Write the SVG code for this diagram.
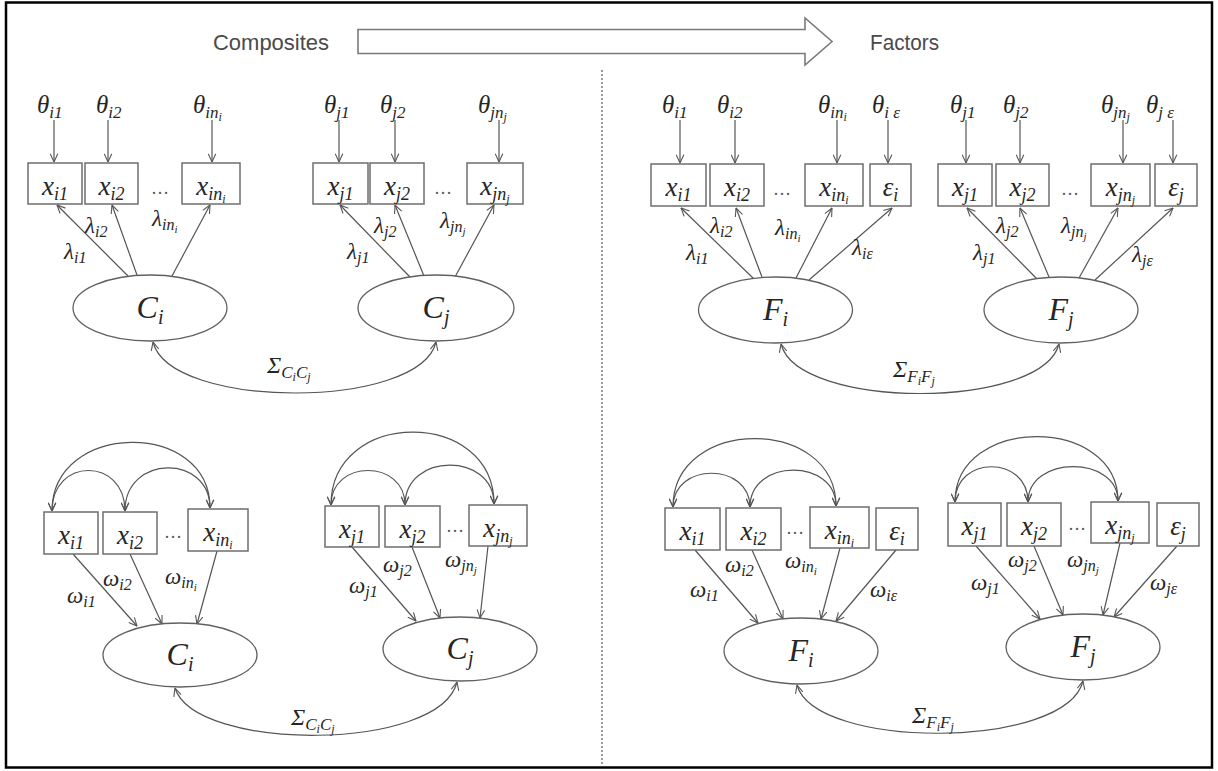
<svg xmlns="http://www.w3.org/2000/svg" width="1218" height="771" viewBox="0 0 1218 771">
<defs>
<style>
.frame{fill:#fff;stroke:#000;stroke-width:2.5}
.box{fill:#fff;stroke:#6e6e6e;stroke-width:1.5}
.ell{fill:#fff;stroke:#606060;stroke-width:1.3}
.ln{fill:none;stroke:#555;stroke-width:1.2}
.m{font-family:"Liberation Serif","Times New Roman",serif;font-style:italic;fill:#262626}
.c{text-anchor:middle}
.s{font-family:"Liberation Sans",Arial,sans-serif;font-size:22px;fill:#4a4a4a}
.div{fill:none;stroke:#9a9a9a;stroke-width:2;stroke-dasharray:2 2}
.big{fill:#fff;stroke:#7a7a7a;stroke-width:1.6}
.dots{font-family:"Liberation Serif","Times New Roman",serif;font-size:18px;fill:#555;text-anchor:middle}
.th{font-size:25px}.th .a{font-size:17px}.th .b{font-size:12px}
.bx{font-size:27px}.bx .a{font-size:18px}.bx .b{font-size:12px}
.gr{font-size:23px}.gr .a{font-size:16px}.gr .b{font-size:11px}
.lv{font-size:32px}.lv .a{font-size:20px}
.sg{font-size:24px}.sg .a{font-size:17px}.sg .b{font-size:12px}
</style>
<marker id="ah" viewBox="0 0 10 10" refX="9.6" refY="5" markerWidth="9" markerHeight="9" markerUnits="userSpaceOnUse" orient="auto-start-reverse"><path d="M0.5,0.8 L9.6,5 L0.5,9.2" fill="none" stroke="#555" stroke-width="1.2"/></marker>
</defs>

<rect class="frame" x="6" y="2.5" width="1206" height="765"/>

<g id="header">
<text class="s" x="213" y="50" textLength="116" lengthAdjust="spacingAndGlyphs">Composites</text>
<polygon class="big" points="358,29.5 805,29.5 805,18 832,41.5 805,65 805,53.5 358,53.5"/>
<text class="s" x="870" y="50" textLength="69" lengthAdjust="spacingAndGlyphs">Factors</text>
<line class="div" x1="602" y1="70" x2="602" y2="764"/>
</g>

<g id="connectors">
<line class="ln" x1="54" y1="120" x2="54" y2="162" marker-end="url(#ah)"/>
<line class="ln" x1="108" y1="120" x2="108" y2="162" marker-end="url(#ah)"/>
<line class="ln" x1="212" y1="120" x2="212" y2="162" marker-end="url(#ah)"/>
<line class="ln" x1="339" y1="120" x2="339" y2="162" marker-end="url(#ah)"/>
<line class="ln" x1="395" y1="120" x2="395" y2="162" marker-end="url(#ah)"/>
<line class="ln" x1="499" y1="120" x2="499" y2="162" marker-end="url(#ah)"/>
<line class="ln" x1="128" y1="276" x2="57" y2="205" marker-end="url(#ah)"/>
<line class="ln" x1="137" y1="275" x2="112" y2="205" marker-end="url(#ah)"/>
<line class="ln" x1="172" y1="276" x2="210" y2="205" marker-end="url(#ah)"/>
<line class="ln" x1="410" y1="277" x2="340" y2="205" marker-end="url(#ah)"/>
<line class="ln" x1="424" y1="276" x2="395" y2="205" marker-end="url(#ah)"/>
<line class="ln" x1="455" y1="277" x2="494" y2="205" marker-end="url(#ah)"/>
<path class="ln" d="M153,342 C170,410 420,410 436,342" marker-start="url(#ah)" marker-end="url(#ah)"/>
<path class="ln" d="M52,511 C52,421 210,419 210,508" marker-start="url(#ah)" marker-end="url(#ah)"/>
<path class="ln" d="M52,511 C52,457 125,457 125,511" marker-start="url(#ah)" marker-end="url(#ah)"/>
<path class="ln" d="M125,511 C125,454 210,454 210,508" marker-start="url(#ah)" marker-end="url(#ah)"/>
<path class="ln" d="M331,505 C331,408 494,408 494,504" marker-start="url(#ah)" marker-end="url(#ah)"/>
<path class="ln" d="M331,505 C331,459 405,459 405,505" marker-start="url(#ah)" marker-end="url(#ah)"/>
<path class="ln" d="M405,505 C405,452 494,452 494,504" marker-start="url(#ah)" marker-end="url(#ah)"/>
<line class="ln" x1="73" y1="554" x2="137" y2="626" marker-end="url(#ah)"/>
<line class="ln" x1="130" y1="554" x2="162" y2="624" marker-end="url(#ah)"/>
<line class="ln" x1="217" y1="551" x2="197" y2="624" marker-end="url(#ah)"/>
<line class="ln" x1="352" y1="547" x2="416" y2="621" marker-end="url(#ah)"/>
<line class="ln" x1="412" y1="547" x2="440" y2="618" marker-end="url(#ah)"/>
<line class="ln" x1="488" y1="546" x2="480" y2="618" marker-end="url(#ah)"/>
<path class="ln" d="M175,688 C195,752 440,752 457,682" marker-start="url(#ah)" marker-end="url(#ah)"/>
<line class="ln" x1="680" y1="120" x2="680" y2="163" marker-end="url(#ah)"/>
<line class="ln" x1="735" y1="120" x2="735" y2="163" marker-end="url(#ah)"/>
<line class="ln" x1="837" y1="120" x2="837" y2="163" marker-end="url(#ah)"/>
<line class="ln" x1="888" y1="120" x2="888" y2="163" marker-end="url(#ah)"/>
<line class="ln" x1="966" y1="120" x2="966" y2="163" marker-end="url(#ah)"/>
<line class="ln" x1="1020" y1="120" x2="1020" y2="163" marker-end="url(#ah)"/>
<line class="ln" x1="1123" y1="120" x2="1123" y2="163" marker-end="url(#ah)"/>
<line class="ln" x1="1173" y1="120" x2="1173" y2="163" marker-end="url(#ah)"/>
<line class="ln" x1="754" y1="279" x2="681" y2="208" marker-end="url(#ah)"/>
<line class="ln" x1="762" y1="277" x2="736" y2="208" marker-end="url(#ah)"/>
<line class="ln" x1="796" y1="278" x2="832" y2="208" marker-end="url(#ah)"/>
<line class="ln" x1="809" y1="280" x2="892" y2="208" marker-end="url(#ah)"/>
<line class="ln" x1="1037" y1="279" x2="967" y2="208" marker-end="url(#ah)"/>
<line class="ln" x1="1049" y1="277" x2="1020" y2="208" marker-end="url(#ah)"/>
<line class="ln" x1="1079" y1="278" x2="1118" y2="208" marker-end="url(#ah)"/>
<line class="ln" x1="1095" y1="280" x2="1173" y2="208" marker-end="url(#ah)"/>
<path class="ln" d="M781,344 C798,410 1042,410 1059,344" marker-start="url(#ah)" marker-end="url(#ah)"/>
<path class="ln" d="M673,507 C673,416 836,416 836,506" marker-start="url(#ah)" marker-end="url(#ah)"/>
<path class="ln" d="M673,507 C673,462 750,462 750,507" marker-start="url(#ah)" marker-end="url(#ah)"/>
<path class="ln" d="M750,507 C750,458 836,458 836,506" marker-start="url(#ah)" marker-end="url(#ah)"/>
<path class="ln" d="M955,502 C955,415 1118,415 1118,501" marker-start="url(#ah)" marker-end="url(#ah)"/>
<path class="ln" d="M955,502 C955,455 1028,455 1028,502" marker-start="url(#ah)" marker-end="url(#ah)"/>
<path class="ln" d="M1028,502 C1028,455 1118,455 1118,501" marker-start="url(#ah)" marker-end="url(#ah)"/>
<line class="ln" x1="695" y1="550" x2="758" y2="623" marker-end="url(#ah)"/>
<line class="ln" x1="752" y1="550" x2="783" y2="619" marker-end="url(#ah)"/>
<line class="ln" x1="840" y1="548" x2="821" y2="619" marker-end="url(#ah)"/>
<line class="ln" x1="896" y1="550" x2="836" y2="621" marker-end="url(#ah)"/>
<line class="ln" x1="976" y1="546" x2="1040" y2="619" marker-end="url(#ah)"/>
<line class="ln" x1="1034" y1="546" x2="1063" y2="615" marker-end="url(#ah)"/>
<line class="ln" x1="1120" y1="543" x2="1103" y2="615" marker-end="url(#ah)"/>
<line class="ln" x1="1177" y1="546" x2="1114" y2="617" marker-end="url(#ah)"/>
<path class="ln" d="M797,685 C815,750 1066,750 1083,681" marker-start="url(#ah)" marker-end="url(#ah)"/>
</g>

<g id="labels">
<text class="m th" x="37" y="113">θ<tspan class="a" dy="5">i1</tspan></text>
<text class="m th" x="96" y="113">θ<tspan class="a" dy="5">i2</tspan></text>
<text class="m th" x="193" y="113">θ<tspan class="a" dy="5">in</tspan><tspan class="b" dy="3">i</tspan></text>
<text class="m th" x="324" y="113">θ<tspan class="a" dy="5">j1</tspan></text>
<text class="m th" x="380" y="113">θ<tspan class="a" dy="5">j2</tspan></text>
<text class="m th" x="478" y="113">θ<tspan class="a" dy="5">jn</tspan><tspan class="b" dy="3">j</tspan></text>
<text class="m gr" x="64" y="259">λ<tspan class="a" dy="4">i1</tspan></text>
<text class="m gr" x="85" y="233">λ<tspan class="a" dy="4">i2</tspan></text>
<text class="m gr" x="152" y="226">λ<tspan class="a" dy="4">in</tspan><tspan class="b" dy="3">i</tspan></text>
<text class="m gr" x="347" y="259">λ<tspan class="a" dy="4">j1</tspan></text>
<text class="m gr" x="374" y="233">λ<tspan class="a" dy="4">j2</tspan></text>
<text class="m gr" x="440" y="228">λ<tspan class="a" dy="4">jn</tspan><tspan class="b" dy="3">j</tspan></text>
<text class="m sg" x="267" y="373">Σ<tspan class="a" dy="5">C</tspan><tspan class="b" dy="3">i</tspan><tspan class="a" dy="-3">C</tspan><tspan class="b" dy="3">j</tspan></text>
<text class="m gr" x="67" y="603">ω<tspan class="a" dy="4">i1</tspan></text>
<text class="m gr" x="103" y="586">ω<tspan class="a" dy="4">i2</tspan></text>
<text class="m gr" x="165" y="584">ω<tspan class="a" dy="4">in</tspan><tspan class="b" dy="3">i</tspan></text>
<text class="m gr" x="349" y="593">ω<tspan class="a" dy="4">j1</tspan></text>
<text class="m gr" x="383" y="572">ω<tspan class="a" dy="4">j2</tspan></text>
<text class="m gr" x="445" y="567">ω<tspan class="a" dy="4">jn</tspan><tspan class="b" dy="3">j</tspan></text>
<text class="m sg" x="291" y="725">Σ<tspan class="a" dy="5">C</tspan><tspan class="b" dy="3">i</tspan><tspan class="a" dy="-3">C</tspan><tspan class="b" dy="3">j</tspan></text>
<text class="m th" x="662" y="113">θ<tspan class="a" dy="5">i1</tspan></text>
<text class="m th" x="717" y="113">θ<tspan class="a" dy="5">i2</tspan></text>
<text class="m th" x="818" y="113">θ<tspan class="a" dy="5">in</tspan><tspan class="b" dy="3">i</tspan></text>
<text class="m th" x="872" y="113">θ<tspan class="a" dy="5">i ε</tspan></text>
<text class="m th" x="950" y="113">θ<tspan class="a" dy="5">j1</tspan></text>
<text class="m th" x="1003" y="113">θ<tspan class="a" dy="5">j2</tspan></text>
<text class="m th" x="1101" y="113">θ<tspan class="a" dy="5">jn</tspan><tspan class="b" dy="3">j</tspan></text>
<text class="m th" x="1146" y="113">θ<tspan class="a" dy="5">j ε</tspan></text>
<text class="m gr" x="686" y="260">λ<tspan class="a" dy="4">i1</tspan></text>
<text class="m gr" x="710" y="233">λ<tspan class="a" dy="4">i2</tspan></text>
<text class="m gr" x="775" y="235">λ<tspan class="a" dy="4">in</tspan><tspan class="b" dy="3">i</tspan></text>
<text class="m gr" x="852" y="255">λ<tspan class="a" dy="4">iε</tspan></text>
<text class="m gr" x="973" y="260">λ<tspan class="a" dy="4">j1</tspan></text>
<text class="m gr" x="996" y="233">λ<tspan class="a" dy="4">j2</tspan></text>
<text class="m gr" x="1061" y="233">λ<tspan class="a" dy="4">jn</tspan><tspan class="b" dy="3">j</tspan></text>
<text class="m gr" x="1132" y="262">λ<tspan class="a" dy="4">jε</tspan></text>
<text class="m sg" x="893" y="377">Σ<tspan class="a" dy="5">F</tspan><tspan class="b" dy="3">i</tspan><tspan class="a" dy="-3">F</tspan><tspan class="b" dy="3">j</tspan></text>
<text class="m gr" x="690" y="597">ω<tspan class="a" dy="4">i1</tspan></text>
<text class="m gr" x="725" y="572">ω<tspan class="a" dy="4">i2</tspan></text>
<text class="m gr" x="785" y="568">ω<tspan class="a" dy="4">in</tspan><tspan class="b" dy="3">i</tspan></text>
<text class="m gr" x="870" y="597">ω<tspan class="a" dy="4">iε</tspan></text>
<text class="m gr" x="971" y="590">ω<tspan class="a" dy="4">j1</tspan></text>
<text class="m gr" x="1008" y="567">ω<tspan class="a" dy="4">j2</tspan></text>
<text class="m gr" x="1067" y="567">ω<tspan class="a" dy="4">jn</tspan><tspan class="b" dy="3">j</tspan></text>
<text class="m gr" x="1150" y="590">ω<tspan class="a" dy="4">jε</tspan></text>
<text class="m sg" x="912" y="723">Σ<tspan class="a" dy="5">F</tspan><tspan class="b" dy="3">i</tspan><tspan class="a" dy="-3">F</tspan><tspan class="b" dy="3">j</tspan></text>
</g>

<g id="tl-xi1"><rect class="box" x="28" y="163" width="54" height="41"/><text class="m c bx" x="55" y="195">x<tspan class="a" dy="5">i1</tspan></text></g>
<g id="tl-xi2"><rect class="box" x="85" y="163" width="53" height="41"/><text class="m c bx" x="111.5" y="195">x<tspan class="a" dy="5">i2</tspan></text></g>
<g id="tl-dots-i"><text class="dots" x="160" y="194">…</text></g>
<g id="tl-xini"><rect class="box" x="182" y="163" width="58" height="41"/><text class="m c bx" x="211" y="195">x<tspan class="a" dy="5">in</tspan><tspan class="b" dy="3">i</tspan></text></g>
<g id="tl-xj1"><rect class="box" x="313" y="163" width="55" height="41"/><text class="m c bx" x="340.5" y="195">x<tspan class="a" dy="5">j1</tspan></text></g>
<g id="tl-xj2"><rect class="box" x="370" y="163" width="54" height="41"/><text class="m c bx" x="397" y="195">x<tspan class="a" dy="5">j2</tspan></text></g>
<g id="tl-dots-j"><text class="dots" x="443" y="194">…</text></g>
<g id="tl-xjnj"><rect class="box" x="467" y="163" width="56" height="41"/><text class="m c bx" x="495" y="195">x<tspan class="a" dy="5">jn</tspan><tspan class="b" dy="3">j</tspan></text></g>
<g id="tl-Ci"><ellipse class="ell" cx="150" cy="308" rx="77" ry="33"/><text class="m c lv" x="150" y="318">C<tspan class="a" dy="6">i</tspan></text></g>
<g id="tl-Cj"><ellipse class="ell" cx="436" cy="308" rx="78" ry="33"/><text class="m c lv" x="436" y="318">C<tspan class="a" dy="6">j</tspan></text></g>

<g id="bl-xi1"><rect class="box" x="44" y="512" width="54" height="42"/><text class="m c bx" x="71" y="544">x<tspan class="a" dy="5">i1</tspan></text></g>
<g id="bl-xi2"><rect class="box" x="103" y="512" width="54" height="42"/><text class="m c bx" x="130" y="544">x<tspan class="a" dy="5">i2</tspan></text></g>
<g id="bl-dots-i"><text class="dots" x="173" y="538">…</text></g>
<g id="bl-xini"><rect class="box" x="188" y="509" width="60" height="42"/><text class="m c bx" x="218" y="541">x<tspan class="a" dy="5">in</tspan><tspan class="b" dy="3">i</tspan></text></g>
<g id="bl-xj1"><rect class="box" x="325" y="506" width="54" height="41"/><text class="m c bx" x="352" y="538">x<tspan class="a" dy="5">j1</tspan></text></g>
<g id="bl-xj2"><rect class="box" x="385" y="506" width="55" height="41"/><text class="m c bx" x="412.5" y="538">x<tspan class="a" dy="5">j2</tspan></text></g>
<g id="bl-dots-j"><text class="dots" x="455" y="532">…</text></g>
<g id="bl-xjnj"><rect class="box" x="469" y="505" width="58" height="41"/><text class="m c bx" x="498" y="537">x<tspan class="a" dy="5">jn</tspan><tspan class="b" dy="3">j</tspan></text></g>
<g id="bl-Ci"><ellipse class="ell" cx="180" cy="655" rx="77" ry="32"/><text class="m c lv" x="180" y="665">C<tspan class="a" dy="6">i</tspan></text></g>
<g id="bl-Cj"><ellipse class="ell" cx="460" cy="649" rx="77" ry="32"/><text class="m c lv" x="460" y="659">C<tspan class="a" dy="6">j</tspan></text></g>

<g id="tr-xi1"><rect class="box" x="651" y="164" width="55" height="42"/><text class="m c bx" x="678.5" y="196">x<tspan class="a" dy="5">i1</tspan></text></g>
<g id="tr-xi2"><rect class="box" x="710" y="164" width="54" height="42"/><text class="m c bx" x="737" y="196">x<tspan class="a" dy="5">i2</tspan></text></g>
<g id="tr-dots-i"><text class="dots" x="782" y="195">…</text></g>
<g id="tr-xini"><rect class="box" x="805" y="164" width="58" height="42"/><text class="m c bx" x="834" y="196">x<tspan class="a" dy="5">in</tspan><tspan class="b" dy="3">i</tspan></text></g>
<g id="tr-ei"><rect class="box" x="870" y="164" width="41" height="42"/><text class="m c bx" x="890.5" y="196">ε<tspan class="a" dy="5">i</tspan></text></g>
<g id="tr-xj1"><rect class="box" x="938" y="164" width="54" height="42"/><text class="m c bx" x="965" y="196">x<tspan class="a" dy="5">j1</tspan></text></g>
<g id="tr-xj2"><rect class="box" x="996" y="164" width="53" height="42"/><text class="m c bx" x="1022.5" y="196">x<tspan class="a" dy="5">j2</tspan></text></g>
<g id="tr-dots-j"><text class="dots" x="1070" y="195">…</text></g>
<g id="tr-xjnj"><rect class="box" x="1091" y="164" width="59" height="42"/><text class="m c bx" x="1120.5" y="196">x<tspan class="a" dy="5">jn</tspan><tspan class="b" dy="3">j</tspan></text></g>
<g id="tr-ej"><rect class="box" x="1155" y="164" width="42" height="42"/><text class="m c bx" x="1176" y="196">ε<tspan class="a" dy="5">j</tspan></text></g>
<g id="tr-Fi"><ellipse class="ell" cx="775.5" cy="310" rx="77" ry="33"/><text class="m c lv" x="775.5" y="320">F<tspan class="a" dy="6">i</tspan></text></g>
<g id="tr-Fj"><ellipse class="ell" cx="1061" cy="310" rx="77" ry="33"/><text class="m c lv" x="1061" y="320">F<tspan class="a" dy="6">j</tspan></text></g>

<g id="br-xi1"><rect class="box" x="665" y="508" width="55" height="42"/><text class="m c bx" x="692.5" y="540">x<tspan class="a" dy="5">i1</tspan></text></g>
<g id="br-xi2"><rect class="box" x="726" y="508" width="55" height="42"/><text class="m c bx" x="753.5" y="540">x<tspan class="a" dy="5">i2</tspan></text></g>
<g id="br-dots-i"><text class="dots" x="795" y="534">…</text></g>
<g id="br-xini"><rect class="box" x="810" y="507" width="59" height="41"/><text class="m c bx" x="839.5" y="539">x<tspan class="a" dy="5">in</tspan><tspan class="b" dy="3">i</tspan></text></g>
<g id="br-ei"><rect class="box" x="876" y="508" width="42" height="42"/><text class="m c bx" x="897" y="540">ε<tspan class="a" dy="5">i</tspan></text></g>
<g id="br-xj1"><rect class="box" x="948" y="503" width="53" height="43"/><text class="m c bx" x="974.5" y="535">x<tspan class="a" dy="5">j1</tspan></text></g>
<g id="br-xj2"><rect class="box" x="1007" y="503" width="54" height="43"/><text class="m c bx" x="1034" y="535">x<tspan class="a" dy="5">j2</tspan></text></g>
<g id="br-dots-j"><text class="dots" x="1077" y="530">…</text></g>
<g id="br-xjnj"><rect class="box" x="1091" y="502" width="58" height="41"/><text class="m c bx" x="1120" y="534">x<tspan class="a" dy="5">jn</tspan><tspan class="b" dy="3">j</tspan></text></g>
<g id="br-ej"><rect class="box" x="1157" y="503" width="42" height="43"/><text class="m c bx" x="1178" y="535">ε<tspan class="a" dy="5">j</tspan></text></g>
<g id="br-Fi"><ellipse class="ell" cx="801" cy="651" rx="77" ry="33"/><text class="m c lv" x="801" y="661">F<tspan class="a" dy="6">i</tspan></text></g>
<g id="br-Fj"><ellipse class="ell" cx="1083" cy="647" rx="77" ry="33"/><text class="m c lv" x="1083" y="657">F<tspan class="a" dy="6">j</tspan></text></g>
</svg>
